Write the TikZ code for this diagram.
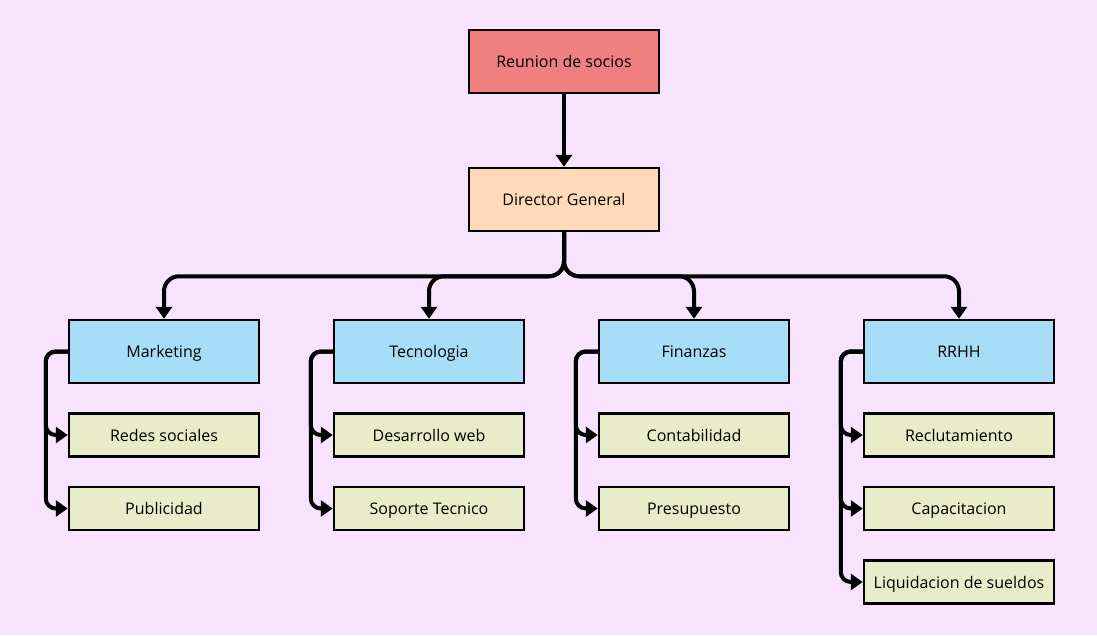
\documentclass[tikz,border=0pt]{standalone}
\usepackage{fontspec}
\setmainfont{Open Sans}
\usetikzlibrary{positioning,arrows.meta}

\definecolor{bgpink}{RGB}{247,227,253}
\definecolor{topred}{RGB}{240,128,128}
\definecolor{dirpeach}{RGB}{255,218,185}
\definecolor{deptblue}{RGB}{168,221,247}
\definecolor{subgreen}{RGB}{233,236,200}

\tikzset{
    box/.style={draw=black, line width=2.5pt, minimum width=190pt, inner sep=0pt,
        text height=14pt, text depth=1.5pt, font=\fontsize{16}{18}\selectfont},
    boss/.style={box, minimum height=63pt},
    dept/.style={box, minimum height=63pt, fill=deptblue},
    sub/.style={box, minimum height=43pt, fill=subgreen},
    link/.style={line width=4pt, rounded corners=15pt, -{Triangle[width=16pt,length=12pt]}},
    rail/.style={line width=4pt, rounded corners=10pt, -{Triangle[width=16pt,length=12pt]}}
}

\begin{document}
\begin{tikzpicture}[x=1pt,y=-1pt]
    % background
    \fill[bgpink] (0,0) rectangle (1097,635);
    \useasboundingbox (0,0) rectangle (1097,635);

    % Define nodes
    \node[boss, fill=topred]	(socios)	at (564,61.5)	{Reunion de socios};
    \node[boss, fill=dirpeach]	(dg)	at (564,199.5)	{Director General};

    \node[dept]	(mkt)	at (164,351.5)	{Marketing};
    \node[dept]	(tec)	at (429,351.5)	{Tecnologia};
    \node[dept]	(fin)	at (694,351.5)	{Finanzas};
    \node[dept]	(rrhh)	at (959,351.5)	{RRHH};

    \node[sub, below = 28pt of mkt]	(redes)	{Redes sociales};
    \node[sub, below = 28pt of redes]	(publi)	{Publicidad};
    \node[sub, below = 28pt of tec]	(web)	{Desarrollo web};
    \node[sub, below = 28pt of web]	(soporte)	{Soporte Tecnico};
    \node[sub, below = 28pt of fin]	(conta)	{Contabilidad};
    \node[sub, below = 28pt of conta]	(presu)	{Presupuesto};
    \node[sub, below = 28pt of rrhh]	(reclu)	{Reclutamiento};
    \node[sub, below = 28pt of reclu]	(capa)	{Capacitacion};
    \node[sub, below = 28pt of capa]	(liqui)	{Liquidacion de sueldos};

    % Connect nodes
    \draw[link] (socios.south) -- (dg.north);
    \foreach \d in {mkt,tec,fin,rrhh}
        \draw[link] (dg.south) -- ++(0,44) -| (\d.north);

    % side rails
    \foreach \d/\s in {mkt/redes,mkt/publi,tec/web,tec/soporte,fin/conta,fin/presu,rrhh/reclu,rrhh/capa,rrhh/liqui}
        \draw[rail] (\d.west) -- ++(-22,0) |- (\s.west);
\end{tikzpicture}
\end{document}
